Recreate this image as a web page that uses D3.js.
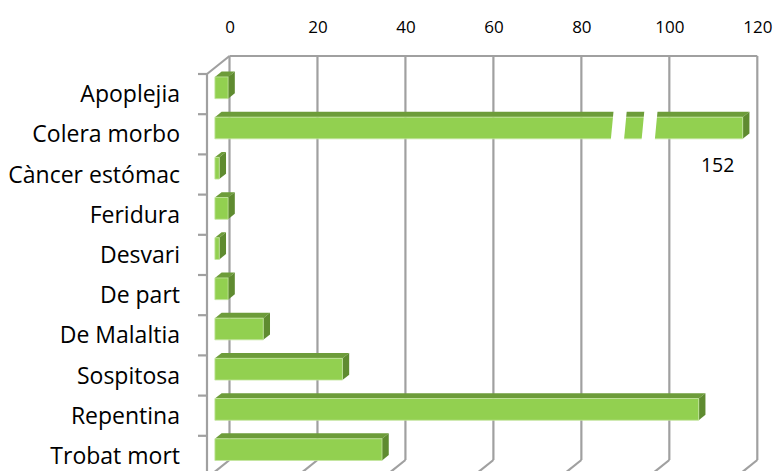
<!DOCTYPE html>
<html>
<head>
<meta charset="utf-8">
<script src="https://cdn.jsdelivr.net/npm/d3@7"></script>
<style>
  html, body { margin: 0; padding: 0; background: #fff; }
  svg { display: block; }
  text { font-family: "Open Sans", sans-serif; fill: #000; font-variant-ligatures: none; }
</style>
</head>
<body>
<svg id="chart" width="777" height="471"></svg>
<script>
// ---- data ----
const categories = ["Apoplejia", "Colera morbo", "Càncer estómac", "Feridura", "Desvari",
                    "De part", "De Malaltia", "Sospitosa", "Repentina", "Trobat mort"];
const values = [3, 152, 1, 3, 1, 3, 11, 29, 110, 38];
const xTicks = [0, 20, 40, 60, 80, 100, 120];
const axisMax = 120;
const breakMarks = [90, 97];   // axis-break gaps drawn on the over-range bar (data units)
const breakWidth = 3;

// ---- layout ----
const W = 777, H = 471;
const svg = d3.select("#chart");
const depth = [-22.5, 18];          // back wall -> front edge offset
const gridColor = "#a0a0a0";

const x = d3.scaleLinear().domain([0, axisMax]).range([229.5, 757.3]);
const y = d3.scaleBand().domain(categories).range([56, 458]).paddingInner(0.46).paddingOuter(0.23);
const yEdge = d3.scaleLinear().domain([0, categories.length]).range([56, 458]);
const wallBottom = 460;

function proj(px, py, t) { return [px + depth[0] * t, py + depth[1] * t]; }

// ---- back wall gridlines ----
const grid = svg.append("g").attr("stroke", gridColor).attr("stroke-width", 2.2).attr("fill", "none");
xTicks.forEach(v => {
  grid.append("line").attr("x1", x(v)).attr("x2", x(v)).attr("y1", 56).attr("y2", wallBottom);
  const p = proj(x(v), wallBottom, 1);
  grid.append("line").attr("x1", x(v)).attr("y1", wallBottom).attr("x2", p[0]).attr("y2", p[1]);
});
grid.append("line").attr("x1", x(0)).attr("x2", x(axisMax)).attr("y1", 56).attr("y2", 56);
// left wall
const tl = proj(x(0), 56, 1);
grid.append("line").attr("x1", x(0)).attr("y1", 56).attr("x2", tl[0]).attr("y2", tl[1]);
grid.append("line").attr("x1", tl[0]).attr("y1", tl[1]).attr("x2", tl[0]).attr("y2", H + 20);
// category ticks on front edge
d3.range(categories.length + 1).forEach(i => {
  const p = proj(x(0), yEdge(i), 1);
  grid.append("line").attr("x1", p[0] - 9).attr("x2", p[0]).attr("y1", p[1]).attr("y2", p[1]);
});

// ---- bars ----
const tFront = 0.65, tBack = 0.35;
const bars = svg.append("g");
categories.forEach((c, i) => {
  const v = Math.min(values[i], axisMax);
  const y0 = y(c), y1 = y(c) + y.bandwidth();
  const fA = proj(x(0), y0, tFront), fB = proj(x(v), y0, tFront), fC = proj(x(v), y1, tFront), fD = proj(x(0), y1, tFront);
  const bA = proj(x(0), y0, tBack), bB = proj(x(v), y0, tBack), bC = proj(x(v), y1, tBack);
  const poly = pts => pts.map(p => p.join(",")).join(" ");
  // top face
  bars.append("polygon").attr("points", poly([fA, fB, bB, bA])).attr("fill", "#6d9c3a");
  // side face
  bars.append("polygon").attr("points", poly([fB, bB, bC, fC])).attr("fill", "#5f8b30");
  // front face
  bars.append("polygon").attr("points", poly([fA, fB, fC, fD]))
    .attr("fill", "#92d050").attr("stroke", "#c4e6a0").attr("stroke-width", 0.8);

  if (values[i] > axisMax) {
    // break gaps
    breakMarks.forEach(b => {
      const g0 = proj(x(b), y0 - 8, tFront), g1 = proj(x(b + breakWidth), y0 - 8, tFront);
      const g2 = proj(x(b + breakWidth), y1 + 2, tFront), g3 = proj(x(b), y1 + 2, tFront);
      const s = 3;
      bars.append("polygon")
        .attr("points", poly([[g0[0] + s, g0[1]], [g1[0] + s, g1[1]], [g2[0], g2[1]], [g3[0], g3[1]]]))
        .attr("fill", "#fff");
    });
    const lp = proj(x(axisMax), y1, tFront);
    bars.append("text").attr("x", lp[0] - 25).attr("y", lp[1] + 33)
      .attr("text-anchor", "middle").attr("font-size", 19.5).text(values[i]);
  }
});

// ---- top axis labels ----
const axis = d3.axisTop(x).tickValues(xTicks).tickSize(0).tickPadding(3).tickFormat(d3.format("d"));
const ag = svg.append("g").attr("transform", "translate(0,36)").call(axis);
ag.select(".domain").remove();
ag.selectAll("text").attr("font-family", "'Open Sans', sans-serif").attr("font-size", 17).attr("fill", "#000");

// ---- category labels ----
svg.append("g").selectAll("text").data(categories).join("text")
  .attr("x", 180)
  .attr("y", d => proj(0, y(d) + y.bandwidth() / 2, 1)[1] + 8)
  .attr("text-anchor", "end")
  .attr("font-size", 23)
  .text(d => d);
</script>
</body>
</html>
